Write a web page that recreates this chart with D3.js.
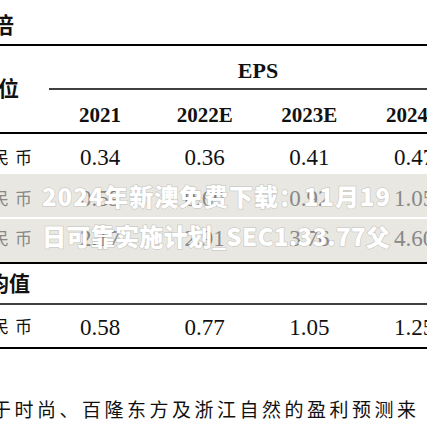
<!DOCTYPE html>
<html><head><meta charset="utf-8">
<script src="https://cdn.jsdelivr.net/npm/d3@7"></script>
<style>body{margin:0;background:#fff}</style>
</head><body>
<script>
var w = 427, h = 427;

var years = ["2021", "2022E", "2023E", "2024E"];
var rowLabels = ["人民币", "人民币", "人民币"];
var rowValues = [
  ["0.34", "0.36", "0.41", "0.47"],
  ["0.59", "0.69", "0.92", "1.05"],
  ["2.17", "2.91", "3.76", "4.60"]
];
var avgValues = ["0.58", "0.77", "1.05", "1.25"];
var watermark = ["2024年新澳免费下载：11月19", "日可靠实施计划_SEC1.33.77父"];

var svg = d3.select("body").append("svg").attr("width", w).attr("height", h);

var x = d3.scalePoint().domain(years).range([100, 414]);
var serif = "'Liberation Serif', 'DejaVu Serif', serif";
var cjk = "'Noto Sans CJK SC', sans-serif";

// grey band behind rows 2-3
svg.append("rect").attr("x", 0).attr("y", 174).attr("width", w).attr("height", 88).attr("fill", "#e9e7e1");
svg.append("line").attr("x1", 0).attr("x2", w).attr("y1", 218).attr("y2", 218).attr("stroke", "#fff").attr("stroke-width", 2);

function hline(y, x1, sw) {
  svg.append("line").attr("x1", x1).attr("x2", w).attr("y1", y).attr("y2", y)
    .attr("stroke", "#000").attr("stroke-width", sw);
}
hline(45, 0, 2);
hline(89, 49, 1.5);
hline(133, 0, 2);
hline(263, 0, 2);
hline(304, 0, 1.5);
hline(348, 0, 2);

function txt(s, xx, y, opt) {
  opt = opt || {};
  return svg.append("text").attr("x", xx).attr("y", y).text(s)
    .attr("text-anchor", opt.anchor || "middle")
    .attr("font-family", opt.font || serif)
    .attr("font-size", opt.size || 23)
    .attr("font-weight", opt.bold ? "bold" : "normal")
    .attr("letter-spacing", opt.ls || 0)
    .attr("fill", opt.fill || "#111");
}

txt("倍", -8, 33, {anchor: "start", font: cjk, size: 22, bold: true});
txt("位", -2, 96, {anchor: "start", font: cjk, size: 21, bold: true});
txt("EPS", 258, 78, {bold: true, size: 22});
years.forEach(function(y) { txt(y, x(y), 122, {bold: true, size: 21}); });

var rowY = [165, 206, 246];
rowValues.forEach(function(r, i) {
  var fill = i === 0 ? "#111" : "#888";
  txt(rowLabels[i], 38, rowY[i] - 1, {anchor: "end", font: cjk, size: 17, fill: fill, ls: 6});
  r.forEach(function(v, j) { txt(v, x(years[j]), rowY[i], {fill: fill}); });
});

txt("均值", -12, 291, {anchor: "start", font: cjk, size: 21, bold: true});
txt("人民币", 38, 333, {anchor: "end", font: cjk, size: 17, ls: 6});
avgValues.forEach(function(v, j) { txt(v, x(years[j]), 335); });

txt("于时尚、百隆东方及浙江自然的盈利预测来", -8, 417, {anchor: "start", font: cjk, size: 19, ls: 3.5});

// watermark overlay
watermark.forEach(function(s, i) {
  svg.append("text").attr("x", 42).attr("y", 206 + i * 40).text(s)
    .attr("font-family", cjk).attr("font-size", 24).attr("font-weight", 900)
    .attr("fill", "#fff").attr("stroke", "rgba(0,0,0,0.15)").attr("stroke-width", 1.5)
    .attr("paint-order", "stroke")
    .attr("textLength", 348);
});
</script>
</body></html>
